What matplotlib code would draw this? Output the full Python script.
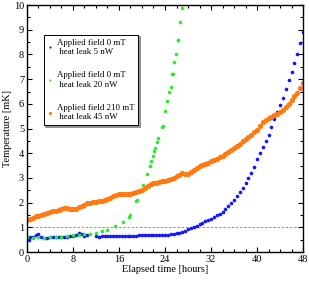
import matplotlib
matplotlib.use("Agg")
import matplotlib.pyplot as plt
from matplotlib.ticker import MultipleLocator

plt.rcParams['font.family'] = ['Liberation Serif', 'DejaVu Serif']

# applied field 0 mT, heat leak 5 nW
t_blue = [0, 0.3, 0.6, 1.0, 1.5, 2.0, 2.5, 3.0, 3.5, 4.0, 4.5, 5.0, 5.5, 6.0, 6.5, 7.0,
          7.5, 8.0, 8.5, 9.0, 9.5, 10.0, 10.5, 12.0, 12.5, 13.0, 13.5, 14.0, 14.5, 15.0,
          15.5, 16.0, 16.5, 17.0, 17.5, 18.0, 18.5, 19.0, 19.5, 20.0, 20.5, 21.0, 21.5,
          22.0, 22.5, 23.0, 23.5, 24.0, 24.5, 25.0, 25.5, 26.0, 26.5, 27.0, 27.5, 28.0,
          28.5, 29.0, 29.5, 30.0, 30.5, 31.0, 31.5, 32.0, 32.5, 33.0, 33.5, 34.0, 34.5,
          35.0, 35.5, 36.0, 36.5, 37.0, 37.5, 38.0, 38.5, 39.0, 39.5, 40.0, 40.5, 41.0,
          41.5, 42.0, 42.5, 43.0, 43.5, 44.0, 44.5, 45.0, 45.5, 46.0, 46.5, 47.0, 47.5, 48.0]
T_blue = [0.55, 0.48, 0.62, 0.60, 0.68, 0.72, 0.60, 0.58, 0.59, 0.60, 0.61, 0.62, 0.60, 0.60,
          0.61, 0.63, 0.64, 0.65, 0.70, 0.78, 0.72, 0.65, 0.70, 0.65, 0.62, 0.64, 0.64, 0.64,
          0.65, 0.65, 0.65, 0.66, 0.66, 0.66, 0.67, 0.67, 0.67, 0.67, 0.68, 0.68, 0.68, 0.68,
          0.69, 0.70, 0.70, 0.70, 0.70, 0.69, 0.70, 0.72, 0.74, 0.76, 0.78, 0.82, 0.86, 0.92,
          0.96, 1.00, 1.06, 1.12, 1.18, 1.25, 1.30, 1.36, 1.42, 1.50, 1.56, 1.63, 1.74,
          1.85, 1.97, 2.10, 2.26, 2.43, 2.60, 2.78, 2.98, 3.20, 3.46, 3.75, 4.00, 4.25,
          4.50, 4.75, 5.05, 5.40, 5.68, 5.95, 6.25, 6.60, 6.95, 7.30, 7.65, 8.00, 8.45, 8.90]

# applied field 0 mT, heat leak 20 nW
t_green = [0, 1, 2, 3, 4, 5, 6, 7, 8, 9, 10, 11, 12, 13, 14, 15.3, 16.75, 17.8, 18.0,
           18.9, 19.1, 19.6, 19.8, 20.2, 20.8, 21.4, 21.6, 21.9, 22.1, 22.3, 22.6, 22.8,
           23.4, 23.6, 24.0, 24.4, 24.7, 25.0, 25.2, 25.35, 25.6, 25.9, 26.2, 26.3, 26.6, 27.0]
T_green = [0.62, 0.58, 0.60, 0.58, 0.60, 0.60, 0.60, 0.65, 0.68, 0.70, 0.72, 0.75, 0.78,
           0.84, 0.88, 1.05, 1.20, 1.42, 1.50, 2.05, 2.10, 2.48, 2.50, 2.70, 3.15, 3.50,
           3.70, 3.90, 4.10, 4.20, 4.45, 4.60, 5.05, 5.10, 5.70, 6.10, 6.50, 6.70, 7.20,
           7.20, 7.70, 8.00, 8.60, 8.60, 9.30, 9.90]

# applied field 210 mT, heat leak 45 nW
t_orange = [0, 0.5, 1, 1.5, 2, 2.5, 3, 3.5, 4, 4.5, 5, 5.5, 6, 6.5, 7, 7.5, 8, 8.5, 9, 9.5,
            10, 10.5, 11, 11.5, 12, 12.5, 13, 13.5, 14, 14.5, 15, 15.5, 16, 16.5, 17, 17.5,
            18, 18.5, 19, 19.5, 20, 20.5, 21, 21.5, 22, 22.5, 23, 23.5, 24, 24.5, 25, 25.5,
            26, 26.5, 27, 27.5, 28, 28.5, 29, 29.5, 30, 30.5, 31, 31.5, 32, 32.5, 33, 33.5,
            34, 34.5, 35, 35.5, 36, 36.5, 37, 37.5, 38, 38.5, 39, 39.5, 40, 40.5, 41, 41.5,
            42, 42.5, 43, 43.5, 44, 44.5, 45, 45.5, 46, 46.5, 47, 47.5, 48]
T_orange = [1.28, 1.34, 1.40, 1.45, 1.48, 1.52, 1.56, 1.60, 1.63, 1.65, 1.67, 1.71, 1.76,
            1.78, 1.78, 1.76, 1.74, 1.76, 1.82, 1.87, 1.92, 1.97, 2.00, 2.01, 2.04, 2.06,
            2.08, 2.11, 2.15, 2.20, 2.26, 2.31, 2.34, 2.36, 2.35, 2.34, 2.37, 2.40, 2.43,
            2.47, 2.52, 2.58, 2.66, 2.74, 2.78, 2.81, 2.84, 2.86, 2.88, 2.90, 2.95, 3.02,
            3.08, 3.14, 3.20, 3.17, 3.18, 3.26, 3.34, 3.42, 3.48, 3.52, 3.57, 3.62, 3.67,
            3.72, 3.78, 3.84, 3.90, 3.97, 4.05, 4.13, 4.22, 4.30, 4.39, 4.48, 4.57, 4.66,
            4.75, 4.85, 4.96, 5.10, 5.25, 5.35, 5.42, 5.48, 5.53, 5.58, 5.66, 5.76, 5.88,
            6.00, 6.15, 6.30, 6.45, 6.63, 6.85]

labels = ["Applied field 0 mT\n heat leak 5 nW",
          "Applied field 0 mT\n heat leak 20 nW",
          "Applied field 210 mT\n heat leak 45 nW"]

fig = plt.figure(figsize=(3.09, 2.82), dpi=100)
ax = fig.add_axes([0.087, 0.106, 0.894, 0.876])

ax.axhline(1, color='gray', linestyle='--', linewidth=0.6, dashes=(3, 2), zorder=1)
ax.plot(t_blue, T_blue, 'o', color='#1414ff', ms=2.6, mew=0, label=labels[0])
ax.plot(t_green, T_green, 'o', color='#2eea2e', ms=2.6, mew=0, label=labels[1])
ax.plot(t_orange, T_orange, 'o', color='#ff7a12', ms=3.8, mew=0, label=labels[2])

ax.set_xlim(0, 48)
ax.set_ylim(0, 10)
ax.xaxis.set_major_locator(MultipleLocator(8))
ax.xaxis.set_minor_locator(MultipleLocator(2))
ax.yaxis.set_major_locator(MultipleLocator(1))
ax.yaxis.set_minor_locator(MultipleLocator(0.5))
ax.tick_params(which='both', direction='in', top=True, right=True, labelsize=7.5, width=0.8)
ax.tick_params(which='major', length=3.5, pad=2)
ax.tick_params(which='minor', length=2)
for s in ax.spines.values():
    s.set_linewidth(1.0)

ax.set_xlabel("Elapsed time [hours]", fontsize=7.5, labelpad=1)
ax.set_ylabel("Temperature [mK]", fontsize=7.5, labelpad=1)

leg = ax.legend(loc='upper left', bbox_to_anchor=(0.045, 0.898), fontsize=6.4, markerscale=0.6,
                handlelength=0.5, handletextpad=0.5, labelspacing=1.75, borderpad=0.45,
                fancybox=False, framealpha=1, edgecolor='black',
                shadow={'color': '0.5', 'alpha': 0.8, 'ox': 1.2, 'oy': -1.2})
leg.get_frame().set_linewidth(0.7)

fig.savefig("out.png", dpi=100)
